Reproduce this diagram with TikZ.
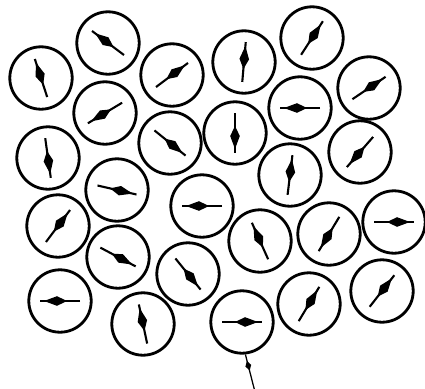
\documentclass[tikz,border=0pt]{standalone}
\usepackage{tikz}
\usetikzlibrary{positioning}

\begin{document}
\begin{tikzpicture}[x=0.025cm, y=-0.025cm,
    disc/.style={circle, draw, line width=2pt, minimum size=1.56cm, inner sep=0pt},
    needle/.style={line width=1.5pt},
]
\useasboundingbox (0,0) rectangle (425,388);
% grains, each with its moment
\foreach \x/\y/\a [count=\i] in {41/78/108, 108/43/143, 172/75/37, 244/62/85, 312/38/57,
    105/113/211, 300/108/180, 369/88/34, 48/158/278, 170/143/-39, 235/133/270,
    360/152/229, 117/190/-13, 202/206/180, 290/175/83, 58/226/53, 118/257/-28,
    188/274/-51, 260/241/114, 329/234/239, 394/222/0, 60/301/180, 143/324/102,
    242/322/0, 309/304/59, 382/291/52} {
    \node[disc] (c\i) at (\x,\y) {};
    \begin{scope}[shift={(c\i.center)}, rotate=\a]
        \draw[needle] (-20,0) -- (20,0);
        \fill (-7,0) -- (3,4.8) -- (16,0) -- (3,-4.8) -- cycle;
    \end{scope}
}
% pointer to one grain
\coordinate (tail) at (255,392);
\draw[line width=0.9pt] (c24.-84) -- (tail);
\path (c24.-84) -- (tail) coordinate[pos=0.3] (blob);
\begin{scope}[shift={(blob)}, rotate=106]
    \fill (-5,0) -- (0,3) -- (5,0) -- (0,-3) -- cycle;
\end{scope}
\end{tikzpicture}
\end{document}
